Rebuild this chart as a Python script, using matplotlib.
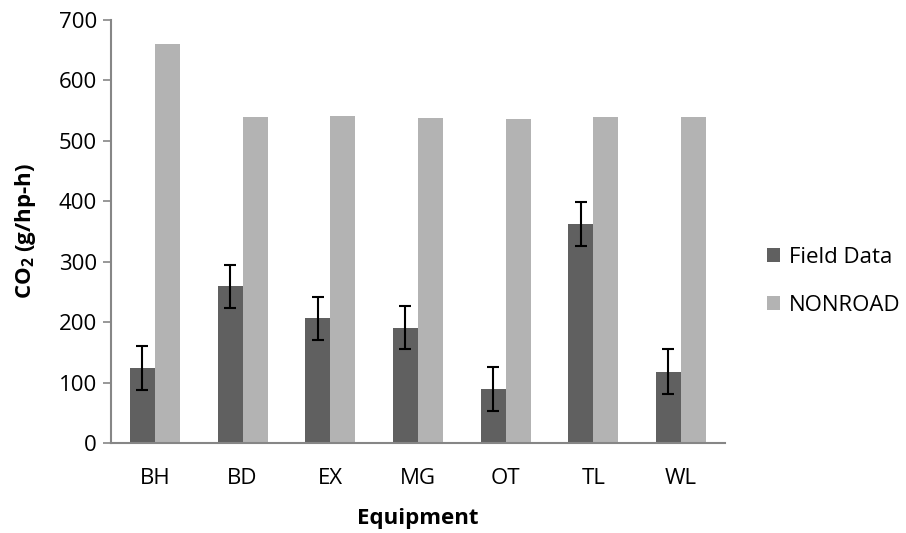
import matplotlib
matplotlib.use("Agg")
import matplotlib.pyplot as plt
import numpy as np

categories = ["BH", "BD", "EX", "MG", "OT", "TL", "WL"]
field_data = [124, 259, 206, 191, 89, 362, 118]
field_err = [36, 36, 36, 36, 36, 36, 37]
nonroad = [661, 539, 541, 538, 536, 539, 539]

plt.rcParams["font.family"] = ["Open Sans", "DejaVu Sans"]
plt.rcParams["mathtext.fontset"] = "custom"
plt.rcParams["mathtext.rm"] = "Open Sans"
plt.rcParams["mathtext.bf"] = "Open Sans:bold"

fig = plt.figure(figsize=(9.06, 5.33), dpi=100)
ax = fig.add_axes([0.1225, 0.169, 0.6775, 0.7935])

x = np.arange(len(categories))
w = 0.285
ax.bar(x - w / 2, field_data, w, color="#606060", label="Field Data",
       yerr=field_err, error_kw=dict(ecolor="black", elinewidth=1.5, capsize=4.3, capthick=1.5))
ax.bar(x + w / 2, nonroad, w, color="#b3b3b3", label="NONROAD")

ax.set_xlim(-0.5, len(categories) - 0.5)
ax.set_ylim(0, 700)
ax.set_yticks(range(0, 701, 100))
ax.set_xticks(x)
ax.set_xticklabels(categories)
ax.tick_params(axis="both", labelsize=16, colors="#868686", labelcolor="black")
ax.tick_params(axis="x", length=0, pad=18)
ax.tick_params(axis="y", length=6, width=1.2, pad=4)

for s in ["top", "right"]:
    ax.spines[s].set_visible(False)
for s in ["left", "bottom"]:
    ax.spines[s].set_color("#868686")
    ax.spines[s].set_linewidth(1.5)

ax.set_ylabel(r"CO$_\mathbf{2}$ (g/hp-h)", fontsize=16, fontweight="bold", labelpad=15)
ax.set_xlabel("Equipment", fontsize=16, fontweight="bold", labelpad=14)

ax.legend(loc="center left", bbox_to_anchor=(0.834, 0.472), bbox_transform=fig.transFigure,
          frameon=False, fontsize=16, handlelength=0.6, handleheight=0.6,
          handletextpad=0.4, labelspacing=1.2, borderpad=0)

fig.savefig("out.png", dpi=100)
